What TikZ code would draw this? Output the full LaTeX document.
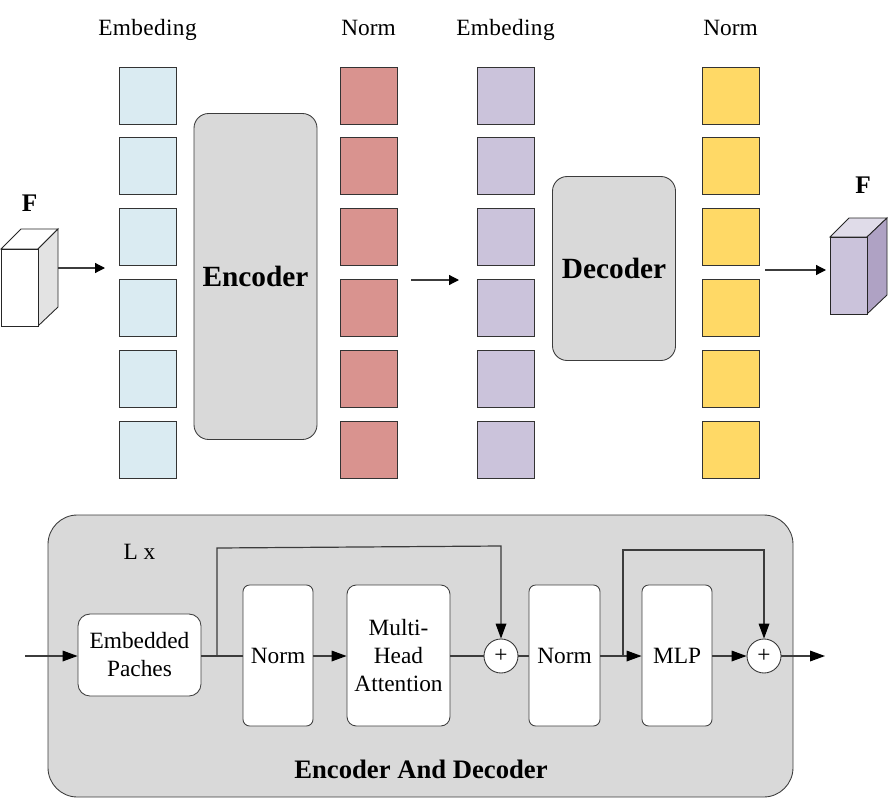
\documentclass[tikz,border=0pt]{standalone}
\usepackage{fontspec}
\setmainfont{Liberation Serif}
\newfontfamily\spacedfont[LetterSpace=1.5]{Liberation Serif}
\usepackage{pgf, tikz}
\usetikzlibrary{arrows.meta}

\definecolor{patchblue}{HTML}{DAEBF2}
\definecolor{patchred}{HTML}{D9938F}
\definecolor{patchpurple}{HTML}{CBC3DB}
\definecolor{patchyellow}{HTML}{FFD966}
\definecolor{panelgray}{HTML}{D9D9D9}
\definecolor{sidepurple}{HTML}{AFA2C4}
\definecolor{toppurple}{HTML}{E0DCE9}
\definecolor{linegray}{HTML}{3C3C3C}

\begin{document}
\begin{tikzpicture}[
            x = 0.75pt, y = -0.75pt, % one unit is one pixel of the reference
            > = {Triangle[length=11.25pt, width=8pt, color=black, fill=black]}, % arrow head style
            line width = 0.65pt % line style
        ]

        \tikzstyle{patch}=[
            draw = black!80,
            inner sep = 0pt,
            minimum size = 42.75pt
        ]
        \tikzstyle{panel}=[
            draw = linegray,
            fill = panelgray,
            inner sep = 0pt,
            align = center
        ]
        \tikzstyle{block}=[
            draw = black!75,
            fill = white,
            inner sep = 0pt,
            align = center,
            minimum height = 105.75pt,
            rounded corners = 5pt,
            font = \fontsize{17.5}{21}\selectfont
        ]
        \tikzstyle{adder}=[
            circle,
            draw = black!80,
            fill = white,
            inner sep = 0pt,
            minimum size = 25.5pt,
            font = \fontsize{17.5}{21}\selectfont
        ]
        \tikzstyle{caption}=[
            inner sep = 0pt,
            font = \fontsize{17.5}{21}\selectfont
        ]
        \tikzstyle{title}=[
            inner sep = 0pt,
            font = \bfseries\fontsize{19}{22}\selectfont
        ]
        \tikzstyle{wire}=[
            draw = linegray,
            line width = 0.9pt
        ]
        \tikzstyle{small arrow}=[
            -{Triangle[length=7.5pt, width=7.5pt, color=black, fill=black]},
            wire
        ]

        % patch columns
        \foreach \y [count=\i] in {95.5, 166, 237, 307.5, 378.5, 449.5} {
            \node[patch, fill=patchblue] (blue\i) at (147.5,\y) {};
            \node[patch, fill=patchred] (red\i) at (368.5,\y) {};
            \node[patch, fill=patchpurple] (purple\i) at (505.5,\y) {};
            \node[patch, fill=patchyellow] (yellow\i) at (730.5,\y) {};
        }

        \node[caption, anchor=base] (embedA) at (147.5,36) {\spacedfont Embeding};
        \node[caption, anchor=base] (normA) at (368.5,36) {Norm};
        \node[caption, anchor=base] (embedB) at (505.5,36) {\spacedfont Embeding};
        \node[caption, anchor=base] (normB) at (730.5,36) {Norm};

        \node[panel, rounded corners=11pt, minimum width=92.25pt, minimum height=244.5pt,
            font=\bfseries\fontsize{22}{26}\selectfont] (encoder) at (255.5,276.5) {Encoder};
        \node[panel, rounded corners=11pt, minimum width=92.25pt, minimum height=138pt,
            font=\bfseries\fontsize{22}{26}\selectfont] (decoder) at (614,268.5) {Decoder};

        % input and output cubes
        \draw[fill=white, draw=black!85] (1,249) -- (21,229) -- (58,229) -- (38,249) -- cycle;
        \draw[fill=black!11, draw=black!85] (38,249) -- (58,229) -- (58,307) -- (38,326) -- cycle;
        \node[draw=black!85, fill=white, inner sep=0pt, minimum width=27.75pt, minimum height=57.75pt]
            (cubeIn) at (19.5,287.5) {};
        \draw[fill=toppurple, draw=black!85] (830,237) -- (849,218) -- (887,218) -- (867,237) -- cycle;
        \draw[fill=sidepurple, draw=black!85] (867,237) -- (887,218) -- (887,295) -- (867,314) -- cycle;
        \node[draw=black!85, fill=patchpurple, inner sep=0pt, minimum width=27.75pt, minimum height=57.75pt]
            (cubeOut) at (848.5,275.5) {};

        \node[title] (fIn) at (29.5,203) {F};
        \node[title] (fOut) at (863,185) {F};

        \coordinate (inStart) at (58,268);
        \coordinate (inEnd) at (105,268);
        \coordinate (midStart) at (411,280);
        \coordinate (midEnd) at (459,280);
        \coordinate (outStart) at (765,270);
        \coordinate (outEnd) at (826,270);

        \draw[small arrow] (inStart) -- (inEnd);
        \draw[small arrow] (midStart) -- (midEnd);
        \draw[small arrow] (outStart) -- (outEnd);

        % lower panel
        \node[panel, rounded corners=22pt, minimum width=558.75pt, minimum height=211.5pt]
            (frame) at (420.5,656) {};
        \node[caption] (times) at (139.5,552) {L x};
        \node[inner sep=0pt, font=\bfseries\fontsize{20}{24}\selectfont] (frameTitle) at (421,769)
            {Encoder And Decoder};

        \node[block, minimum width=92.25pt, minimum height=61.5pt, rounded corners=9pt]
            (embedded) at (139.5,655) {Embedded\\Paches};
        \node[block, minimum width=52.5pt] (normC) at (278,655.5) {Norm};
        \node[block, minimum width=77.25pt, rounded corners=7pt] (attention) at (398.5,655.5)
            {Multi-\\Head\\Attention};
        \node[adder] (plusA) at (501,656) {+};
        \node[block, minimum width=53.25pt] (normD) at (564.5,655.5) {Norm};
        \node[block, minimum width=52.5pt] (mlp) at (677,655.5) {MLP};
        \node[adder] (plusB) at (764,656) {+};

        \coordinate (inputEnd) at (25,656);
        \coordinate (outputEnd) at (825,656);
        \coordinate (splitA) at (217,656);
        \coordinate (cornerA) at (217,548);
        \coordinate (cornerB) at (501,546);
        \coordinate (splitB) at (623,656);
        \coordinate (cornerC) at (623,550);
        \coordinate (cornerD) at (764,550);

        \draw[wire, ->] (inputEnd) -- (embedded.west |- inputEnd);
        \draw[wire] (embedded.east |- splitA) -- (normC.west |- splitA);
        \draw[wire, ->] (normC.east |- plusA) -- (attention.west |- plusA);
        \draw[wire] (attention.east |- plusA) -- (plusA);
        \draw[wire] (plusA) -- (normD.west |- plusA);
        \draw[wire, ->] (normD.east |- plusA) -- (mlp.west |- plusA);
        \draw[wire, ->] (mlp.east |- plusB) -- (plusB);
        \draw[wire, ->] (plusB) -- (outputEnd);

        \draw[wire, ->] (splitA) -- (cornerA) -- (cornerB) -- (plusA);
        \draw[wire, ->] (splitB) -- (cornerC) -- (cornerD) -- (plusB);

        \useasboundingbox (0,0) rectangle (888,799);
  \end{tikzpicture}
\end{document}
